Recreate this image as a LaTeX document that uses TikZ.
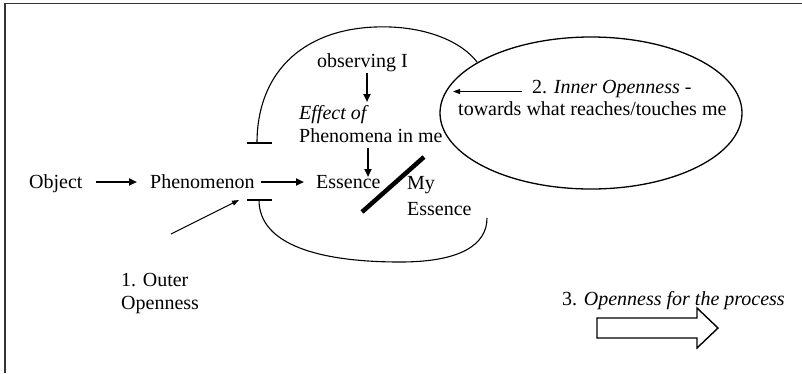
\documentclass[tikz,border=0pt]{standalone}
\usepackage{fontspec}
\setmainfont{Liberation Serif}
\usetikzlibrary{arrows.meta,shapes.geometric}
\begin{document}
\begin{tikzpicture}[x=1pt,y=-1pt,
  txt/.style={inner sep=0pt, font=\fontsize{20}{23}\selectfont, anchor=base west},
  boldarrow/.style={line width=2.2pt,-{Triangle[length=8pt,width=7pt]}},
  thinarrow/.style={line width=1.1pt,-{Triangle[length=7pt,width=5pt]}},
  curve/.style={line width=1.1pt},
  tbar/.style={line width=1.1pt},
]
\useasboundingbox (0,0) rectangle (802,373);
\draw[line width=1.5pt, black!80] (5,373) -- (5,3.5) -- (802,3.5);

% texts
\node[txt] (obj)   at (29,188)  {Object};
\node[txt] (phen)  at (150,188) {Phenomenon};
\node[txt] (ess)   at (316,188) {Essence};
\node[txt] (obs)   at (317,67)  {observing I};
\node[txt] (eff)   at (299,119) {\itshape Effect of};
\node[txt] (phme)  at (299,142) {Phenomena in me};
\node[txt] (my)    at (407,189) {My};
\node[txt] (myess) at (407,215) {Essence};
\node[txt] (outa)  at (121,286) {1. Outer};
\node[txt] (outb)  at (121,309) {Openness};
\node[txt] (inner) at (532,93)  {2. \textit{Inner Openness} -};
\node[txt] (tow)   at (458,115) {towards what reaches/touches me};
\node[txt] (proc)  at (562,305) {3. \textit{Openness for the process}};

% right ellipse
\node[draw, line width=1.3pt, ellipse, minimum width=302pt, minimum height=152pt, inner sep=0pt] (ell) at (591,113) {};

% main chain arrows
\draw[boldarrow] ([shift={(13,-6)}]obj.base east) -- ([shift={(-13,-6)}]phen.base west);
\draw[boldarrow, line width=2.8pt] ([shift={(6,-6)}]phen.base east) -- ([shift={(-12,-6)}]ess.base west);
\draw[boldarrow] ([shift={(50,6)}]obs.base west) -- ([shift={(68,-17)}]eff.base west);
\draw[boldarrow] ([shift={(69,6)}]phme.base west) -- ([shift={(52,-11)}]ess.base west);

% thin arrows
\coordinate (innertip) at (453,91.5);
\draw[thinarrow] ([shift={(-10,-1.5)}]inner.base west) -- (innertip);
\coordinate (outstart) at (171,234);
\coordinate (outtip) at (239,200);
\draw[thinarrow] (outstart) -- (outtip);

% slash
\coordinate (sla) at (362,212);
\coordinate (slb) at (424,157);
\draw[line width=4.5pt] (sla) -- (slb);

% T-bars and arcs
\coordinate (ta) at (257,143);
\coordinate (tb) at (259,200);
\draw[tbar] (247,143) -- (272,143);
\draw[tbar] (247,200) -- (272,200);
\draw[curve] (ta) .. controls (257,75) and (300,30) .. (375,27)
  .. controls (425,25) and (462,42) .. (477,62);
\draw[curve] (tb) .. controls (259,245) and (320,262) .. (400,262)
  .. controls (460,262) and (487,245) .. (487,218);

% block arrow
\draw[line width=1.4pt, line join=miter] (597,318) -- (697,318) -- (697,308) -- (718,328)
  -- (697,348) -- (697,338) -- (597,338) -- cycle;
\end{tikzpicture}
\end{document}
